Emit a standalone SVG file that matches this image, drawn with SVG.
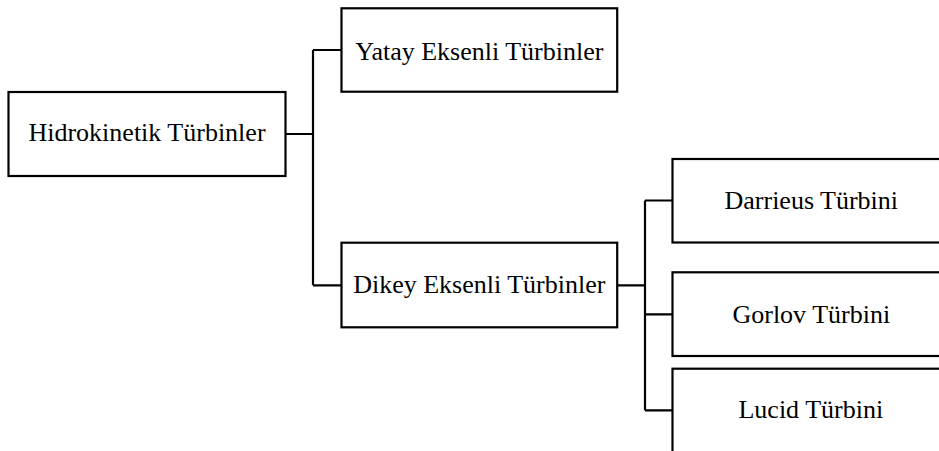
<svg xmlns="http://www.w3.org/2000/svg" width="939" height="451" viewBox="0 0 939 451">
<style>
.box{fill:#fff;stroke:#000;stroke-width:2.2}
.lbl{font-family:"Liberation Serif","Times New Roman",serif;font-size:26px;fill:#000;text-anchor:middle}
.con{fill:none;stroke:#000;stroke-width:2.2}
</style>
<rect width="939" height="451" fill="#fff"/>
<g id="connectors">
<path class="con" d="M285.5,134 H313 M313,50 V285.3 M313,50 H341.5 M313,285.3 H341.5"/>
<path class="con" d="M617,285.3 H645 M645,200.5 V410.3 M645,200.5 H672.5 M645,314.3 H672.5 M645,410.3 H672.5"/>
</g>
<g id="hidrokinetik">
<rect class="box" x="8.5" y="92" width="277" height="84"/>
<text class="lbl" x="147" y="141">Hidrokinetik Türbinler</text>
</g>
<g id="yatay">
<rect class="box" x="341.5" y="8.3" width="275.7" height="83.4"/>
<text class="lbl" x="479.3" y="59.7">Yatay Eksenli Türbinler</text>
</g>
<g id="dikey">
<rect class="box" x="341.5" y="242.7" width="275.7" height="84.6"/>
<text class="lbl" x="479.3" y="293">Dikey Eksenli Türbinler</text>
</g>
<g id="darrieus">
<rect class="box" x="672.5" y="159" width="277" height="83.5"/>
<text class="lbl" x="811.3" y="209.3">Darrieus Türbini</text>
</g>
<g id="gorlov">
<rect class="box" x="672.5" y="272.3" width="277" height="83.7"/>
<text class="lbl" x="811.3" y="322.8">Gorlov Türbini</text>
</g>
<g id="lucid">
<rect class="box" x="672.5" y="368.7" width="277" height="84"/>
<text class="lbl" x="810.8" y="418.3">Lucid Türbini</text>
</g>
</svg>
